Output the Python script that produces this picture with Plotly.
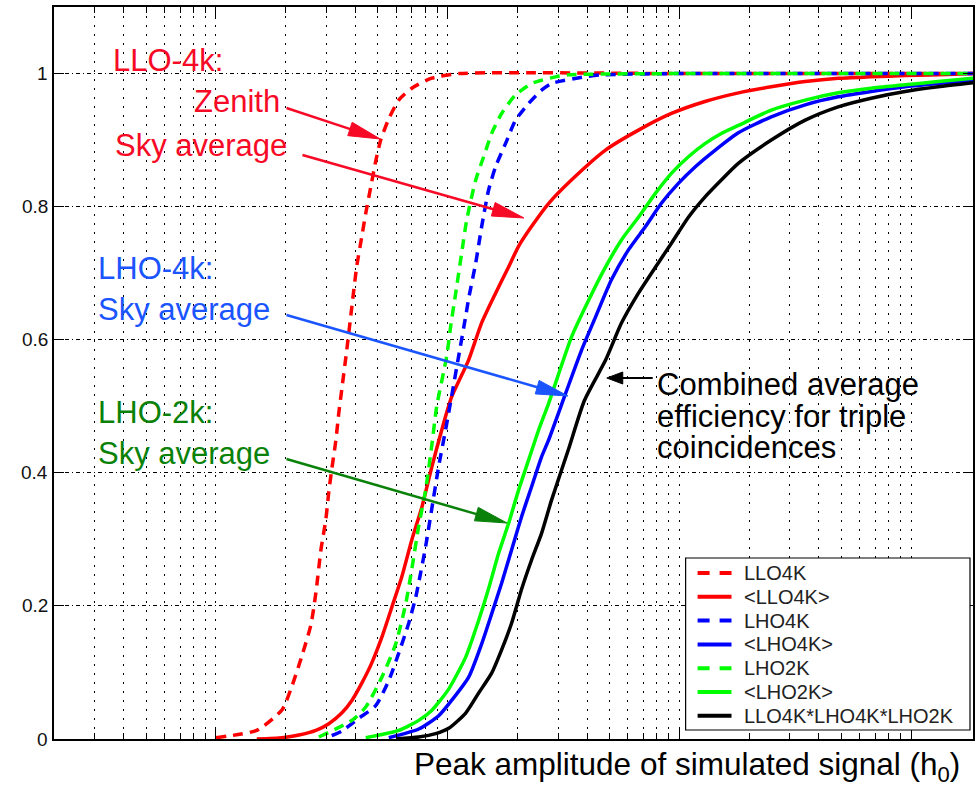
import math
import plotly.graph_objects as go

# ---------------- data (x = peak amplitude h0, in units of 1e-20) ----------------
llo4k_x = [1.0, 1.5, 1.93, 2.13, 2.35, 2.57, 2.70, 2.84, 2.98, 3.07, 3.16, 3.29, 3.39, 3.49,
           3.67, 3.86, 4.05, 4.26, 4.43, 4.66, 4.89, 5.14, 5.57, 6.15, 7.0, 8.53, 11.2, 100, 1850]
llo4k_y = [0.002, 0.013, 0.044, 0.08, 0.125, 0.172, 0.22, 0.285, 0.33, 0.372, 0.405, 0.448, 0.49, 0.525,
           0.585, 0.65, 0.71, 0.755, 0.79, 0.83, 0.868, 0.9, 0.932, 0.96, 0.978, 0.993, 1.0, 1.0, 1.0]

llo4k_avg_x = [1.5, 1.93, 2.28, 2.70, 3.07, 3.49, 3.86, 4.26, 4.70, 5.20, 5.74, 6.33, 7.0, 7.73,
               8.53, 9.42, 10.4, 12.3, 14.0, 16.1, 18.3, 20.2, 23.0, 27.3, 34.2, 48.0, 66.6, 92.4,
               129, 180, 249, 349, 485, 672, 942, 1550, 1850]
llo4k_avg_y = [0.0, 0.002, 0.006, 0.013, 0.023, 0.039, 0.058, 0.084, 0.114, 0.153, 0.198, 0.243, 0.299, 0.348,
               0.408, 0.464, 0.514, 0.569, 0.625, 0.670, 0.709, 0.740, 0.770, 0.805, 0.840, 0.885, 0.915, 0.940,
               0.958, 0.971, 0.980, 0.988, 0.993, 0.995, 0.997, 0.999, 1.0]

lho4k_x = [3.16, 3.5, 4.13, 4.89, 5.57, 6.15, 6.79, 7.28, 7.5, 8.04, 8.53, 9.15, 9.80, 10.4, 11.15,
           11.96, 12.32, 13.21, 14.02, 15.02, 16.1, 17.78, 19.64, 22.34, 25.42, 28.07, 38.95, 46.1, 100, 1850]
lho4k_y = [0.005, 0.012, 0.031, 0.05, 0.088, 0.129, 0.174, 0.213, 0.235, 0.29, 0.345, 0.41, 0.465, 0.515, 0.575,
           0.635, 0.662, 0.715, 0.77, 0.825, 0.86, 0.895, 0.93, 0.955, 0.975, 0.985, 0.995, 0.998, 1.0, 1.0]

lho4k_avg_x = [5.57, 7.5, 9.15, 10.4, 12.32, 14.02, 15.48, 17.09, 18.87, 20.84, 23.02, 25.42, 27.25, 32.26,
               37.8, 43.45, 50.91, 60.28, 71.37, 83.62, 99.0, 117.2, 142.9, 179.6, 249.2, 349.2, 484.5,
               672.3, 942.2, 1307, 1850]
lho4k_avg_y = [0.002, 0.015, 0.035, 0.058, 0.093, 0.143, 0.188, 0.234, 0.284, 0.334, 0.379, 0.424, 0.449, 0.519,
               0.584, 0.634, 0.690, 0.735, 0.770, 0.805, 0.835, 0.860, 0.885, 0.911, 0.935, 0.953, 0.965,
               0.973, 0.980, 0.985, 0.990]

lho2k_x = [2.78, 3.86, 4.43, 5.2, 5.97, 6.59, 7.0, 7.5, 8.04, 8.53, 8.97, 9.9, 10.3, 10.83, 11.49, 12.08,
           13.21, 14.3, 15.48, 17.09, 19.64, 23.02, 25.42, 29.21, 33, 100, 1850]
lho2k_y = [0.003, 0.028, 0.048, 0.093, 0.143, 0.203, 0.255, 0.32, 0.375, 0.44, 0.5, 0.575, 0.62, 0.67, 0.73, 0.78,
           0.84, 0.875, 0.91, 0.94, 0.968, 0.985, 0.99, 0.995, 0.998, 1.0, 1.0]

lho2k_avg_x = [4.43, 6.15, 7.5, 8.53, 10.1, 11.96, 13.6, 15.02, 16.59, 18.32, 20.23, 22.34, 24.67, 27.25,
               34.22, 40.53, 47.97, 56.23, 66.57, 78.8, 92.38, 109.4, 129.4, 151.7, 179.6, 249.2, 349.2,
               484.5, 672.3, 942.2, 1307, 1850]
lho2k_avg_y = [0.002, 0.013, 0.028, 0.043, 0.075, 0.123, 0.178, 0.226, 0.279, 0.324, 0.374, 0.419, 0.464, 0.504,
               0.604, 0.659, 0.709, 0.750, 0.784, 0.820, 0.850, 0.875, 0.895, 0.910, 0.922, 0.945, 0.960,
               0.971, 0.978, 0.983, 0.988, 0.993]

triple_x = [6.0, 7.5, 8.88, 10.1, 11.96, 13.6, 15.48, 17.09, 18.87, 20.84, 23.02, 25.42, 28.07, 33.2, 38.95,
            47.97, 56.23, 66.57, 78.8, 92.38, 109.4, 129.4, 151.7, 179.6, 249.2, 349.2, 484.5, 672.3, 942.2,
            1307, 1850]
triple_y = [0.0, 0.003, 0.008, 0.016, 0.039, 0.069, 0.099, 0.134, 0.174, 0.225, 0.269, 0.309, 0.359, 0.435, 0.509,
            0.569, 0.625, 0.670, 0.709, 0.745, 0.784, 0.815, 0.840, 0.865, 0.900, 0.930, 0.950, 0.963, 0.973,
            0.980, 0.986]

series_names = ["LLO4K", "<LLO4K>", "LHO4K", "<LHO4K>", "LHO2K", "<LHO2K>", "LLO4K*LHO4K*LHO2K"]
y_tick_vals = [0, 0.2, 0.4, 0.6, 0.8, 1]
y_tick_text = ["0", "0.2", "0.4", "0.6", "0.8", "1"]
x_title = "Peak amplitude of simulated signal (h<sub>0</sub>)"

# ---------------- styling ----------------
W, H = 976, 787
PL, PR, PT, PB = 54, 975, 7, 739   # plot area in pixels
FONT = "Liberation Sans, Arial, Helvetica, sans-serif"
RED, BLUE, GREEN, BLACK = "#ff0000", "#0000ff", "#00ff00", "#000000"
RED_T, BLUE_T, GREEN_T = "#f70a26", "#1a55ff", "#0a820a"


def xp(px):
    return (px - PL) / (PR - PL)


def yp(py):
    return (PB - py) / (PB - PT)


fig = go.Figure()

specs = [
    (llo4k_x, llo4k_y, RED, True),
    (llo4k_avg_x, llo4k_avg_y, RED, False),
    (lho4k_x, lho4k_y, BLUE, True),
    (lho4k_avg_x, lho4k_avg_y, BLUE, False),
    (lho2k_x, lho2k_y, GREEN, True),
    (lho2k_avg_x, lho2k_avg_y, GREEN, False),
    (triple_x, triple_y, BLACK, False),
]
for i, (xs, ys, col, dashed) in enumerate(specs):
    fig.add_trace(go.Scatter(
        x=xs, y=ys, mode="lines", name=series_names[i], showlegend=False,
        line=dict(color=col, width=3.5, dash="10px,7px" if dashed else "solid",
                  shape="spline", smoothing=0.6),
    ))

shapes = []
annotations = []

# white boxes behind the text blocks (hide the grid)
for (x0, y0, x1, y1) in [(93, 37, 318, 176), (75, 250, 305, 338), (75, 398, 305, 485), (645, 355, 962, 476)]:
    shapes.append(dict(type="rect", xref="paper", yref="paper", layer="between",
                       x0=xp(x0), x1=xp(x1), y0=yp(y1), y1=yp(y0),
                       fillcolor="white", line=dict(width=0)))


def arrow(tail, tip, color, width, L, w):
    dx, dy = tip[0] - tail[0], tip[1] - tail[1]
    n = math.hypot(dx, dy)
    ux, uy = dx / n, dy / n
    bx, by = tip[0] - L * ux, tip[1] - L * uy
    nx, ny = -uy, ux
    shapes.append(dict(type="line", xref="paper", yref="paper", layer="above",
                       x0=xp(tail[0]), y0=yp(tail[1]), x1=xp(bx + 2 * ux), y1=yp(by + 2 * uy),
                       line=dict(color=color, width=width)))
    p1 = (bx + w * nx, by + w * ny)
    p2 = (bx - w * nx, by - w * ny)
    path = "M {:.5f},{:.5f} L {:.5f},{:.5f} L {:.5f},{:.5f} Z".format(
        xp(tip[0]), yp(tip[1]), xp(p1[0]), yp(p1[1]), xp(p2[0]), yp(p2[1]))
    shapes.append(dict(type="path", xref="paper", yref="paper", layer="above", path=path,
                       fillcolor=color, line=dict(color=color, width=1)))


arrow((287, 108), (381, 139), RED_T, 2.5, 32, 7)
arrow((303, 155), (525, 218), RED_T, 2.5, 32, 7)
arrow((287, 315), (569, 396), BLUE_T, 2.5, 32, 7)
arrow((287, 459), (508, 523), GREEN_T, 2.5, 32, 7)
arrow((654, 378), (608, 378), BLACK, 2, 16, 6)


def label(text, left, center_y, color, size=31, anchor="left", family=FONT):
    annotations.append(dict(text=text, xref="paper", yref="paper", x=xp(left), y=yp(center_y),
                            xanchor=anchor, yanchor="middle", showarrow=False, borderpad=0,
                            font=dict(family=family, size=size, color=color)))


label("LLO-4k:", 112, 61, RED_T)
label("Zenith", 193, 102, RED_T)
label("Sky average", 114, 145, RED_T)
label("LHO-4k:", 97, 268, BLUE_T)
label("Sky average", 97, 310, BLUE_T)
label("LHO-2k:", 97, 412, GREEN_T)
label("Sky average", 97, 453, GREEN_T)
label("Combined average", 657, 384, BLACK)
label("efficiency for triple", 657, 416, BLACK)
label("coincidences", 657, 447, BLACK)
label(x_title, 963, 766, BLACK, size=31.5, anchor="right")

# y tick labels (left of the axis)
for v, t in zip(y_tick_vals, y_tick_text):
    annotations.append(dict(text=t, xref="paper", yref="y", x=xp(49), y=v, xanchor="right",
                            yanchor="middle", showarrow=False, borderpad=0,
                            font=dict(family=FONT, size=19, color="#111111")))

# legend box (drawn in the lower right corner like the original)
LG_L, LG_R, LG_T, LG_B = 687, 972, 558, 730
shapes.append(dict(type="rect", xref="paper", yref="paper", layer="above",
                   x0=xp(LG_L), x1=xp(LG_R), y0=yp(LG_B), y1=yp(LG_T),
                   fillcolor="white", line=dict(color="black", width=1.2)))
for i, (xs, ys, col, dashed) in enumerate(specs):
    yy = 573 + i * 23.8
    shapes.append(dict(type="line", xref="paper", yref="paper", layer="above",
                       x0=xp(699), x1=xp(733), y0=yp(yy), y1=yp(yy),
                       line=dict(color=col, width=4, dash="12px,10px" if dashed else "solid")))
    annotations.append(dict(text=series_names[i].replace("<", "&lt;").replace(">", "&gt;"),
                            xref="paper", yref="paper", x=xp(745), y=yp(yy),
                            xanchor="left", yanchor="middle", showarrow=False, borderpad=0,
                            font=dict(family=FONT, size=20, color="#222222")))

grid_dot = "2px,7px"
fig.update_layout(
    width=W, height=H, autosize=False,
    margin=dict(l=PL, r=W - PR, t=PT, b=H - PB, pad=0),
    paper_bgcolor="white", plot_bgcolor="white",
    font=dict(family=FONT, color="black"),
    showlegend=False,
    xaxis=dict(type="log", range=[math.log10(0.2), math.log10(1850)],
               showticklabels=False, dtick=1, ticks="inside", ticklen=12, tickwidth=1, tickcolor="black",
               showgrid=True, gridcolor="black", gridwidth=1, griddash=grid_dot,
               minor=dict(dtick="D1", ticks="inside", ticklen=6, tickwidth=1, tickcolor="black",
                          showgrid=True, gridcolor="black", gridwidth=1, griddash=grid_dot),
               showline=True, linecolor="black", linewidth=1.6, mirror="ticks", zeroline=False),
    yaxis=dict(range=[0, 1.1], tickvals=y_tick_vals, showticklabels=False,
               ticks="inside", ticklen=10, tickwidth=1, tickcolor="black",
               showgrid=True, gridcolor="black", gridwidth=1, griddash="4px,3px,1px,3px",
               showline=True, linecolor="black", linewidth=1.6, mirror="ticks", zeroline=False),
    shapes=shapes,
    annotations=annotations,
)

fig.write_html("out.html")
